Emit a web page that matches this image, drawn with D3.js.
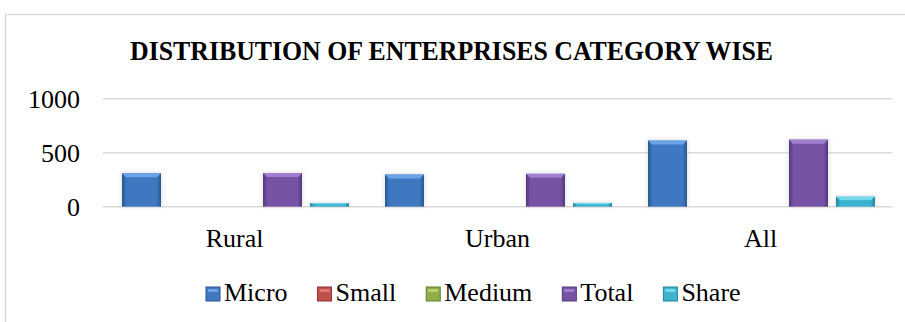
<!DOCTYPE html>
<html>
<head>
<meta charset="utf-8">
<script src="https://cdn.jsdelivr.net/npm/d3@7"></script>
<style>
  body { margin: 0; background: #fff; }
  svg text { font-family: "Liberation Serif", "DejaVu Serif", serif; fill: #000; }
</style>
</head>
<body>
<svg id="chart" width="905" height="322" font-family="Liberation Serif"></svg>
<script>
// data
const categories = ["Rural", "Urban", "All"];
const seriesNames = ["Micro", "Small", "Medium", "Total", "Share"];
const micro  = [309, 298, 612];
const small  = [0, 0, 0];
const medium = [0, 0, 0];
const total  = [312, 304, 621];
const share  = [33, 35, 93];
const yTicks = [0, 500, 1000];

const seriesValues = [micro, small, medium, total, share];
// base / light / dark colours for each series
const palette = {
    Micro:  ["#3f78c0", "#6aa3e6", "#2a5791"],
    Small:  ["#c0504d", "#e07a77", "#8c3431"],
    Medium: ["#8fae4a", "#b5d36f", "#657e2e"],
    Total:  ["#7753a6", "#a07fd0", "#54377a"],
    Share:  ["#3cb4d0", "#74d8ee", "#24839b"]
};
const serif = "Liberation Serif";

const svg = d3.select("#chart");
const defs = svg.append("defs");

// horizontal gradient to get the bevelled look of the bars
seriesNames.forEach(name => {
    let c = palette[name];
    let g = defs.append("linearGradient")
        .attr("id", "grad-" + name)
        .attr("x1", 0).attr("x2", 1).attr("y1", 0).attr("y2", 0);
    g.append("stop").attr("offset", "0%").attr("stop-color", c[2]);
    g.append("stop").attr("offset", "12%").attr("stop-color", c[0]);
    g.append("stop").attr("offset", "88%").attr("stop-color", c[0]);
    g.append("stop").attr("offset", "100%").attr("stop-color", c[2]);
});
defs.append("filter").attr("id", "shadow")
    .attr("x", "-30%").attr("y", "-30%").attr("width", "160%").attr("height", "160%")
    .append("feGaussianBlur").attr("stdDeviation", 2);

// chart frame
svg.append("path")
    .attr("d", "M5.5,322 V14.5 H905")
    .attr("fill", "none")
    .attr("stroke", "#d9d9d9")
    .attr("stroke-width", 1.5);

// title
svg.append("text")
    .attr("x", 130)
    .attr("y", 60)
    .attr("font-family", serif)
    .attr("textLength", 643)
    .attr("lengthAdjust", "spacingAndGlyphs")
    .style("font-size", "28px")
    .style("font-weight", "bold")
    .text("DISTRIBUTION OF ENTERPRISES CATEGORY WISE");

// scales
let x0 = d3.scaleBand().domain(categories).range([103, 892]).padding(0);
let x1 = d3.scaleBand().domain(seriesNames).range([19, 246]).paddingInner(0.17).paddingOuter(0);
let y = d3.scaleLinear().domain([0, 1000]).range([206.7, 98.7]);

// gridlines
svg.append("g").selectAll("line")
    .data(yTicks)
    .join("line")
    .attr("x1", 103).attr("x2", 892)
    .attr("y1", d => y(d)).attr("y2", d => y(d))
    .attr("stroke", "#d9d9d9")
    .attr("stroke-width", 1.5);

// y axis labels
let yAxis = d3.axisLeft(y).tickValues(yTicks).tickSize(0).tickPadding(0).tickFormat(d3.format("d"));
let yg = svg.append("g").attr("transform", "translate(80,0)").call(yAxis)
    .attr("font-family", serif).attr("font-size", 26);
yg.select(".domain").remove();
yg.selectAll("text")
    .attr("dy", "0.34em")
    .attr("fill", "#000");

// x axis labels
let xAxis = d3.axisBottom(x0).tickSize(0).tickPadding(0);
let xg = svg.append("g").attr("transform", "translate(0,247)").call(xAxis)
    .attr("font-family", serif).attr("font-size", 26);
xg.select(".domain").remove();
xg.selectAll("text")
    .attr("dy", 0)
    .attr("y", 0)
    .attr("fill", "#000");

// bars
let rows = categories.map((c, i) => ({
    cat: c,
    vals: seriesNames.map((s, j) => ({ name: s, value: seriesValues[j][i] }))
}));

let groups = svg.append("g").selectAll("g.cat")
    .data(rows)
    .join("g")
    .attr("class", "cat")
    .attr("transform", d => "translate(" + x0(d.cat) + ",0)");

let bars = groups.selectAll("g.bar")
    .data(d => d.vals.filter(v => v.value > 0))
    .join("g")
    .attr("class", "bar");

// soft shadow behind the bars
bars.append("rect")
    .attr("x", d => x1(d.name) - 1)
    .attr("y", d => y(d.value) - 1)
    .attr("width", x1.bandwidth() + 2)
    .attr("height", d => y(0) - y(d.value) + 1)
    .attr("fill", "#c8c8c8")
    .attr("opacity", 0.5)
    .attr("filter", "url(#shadow)");

bars.append("rect")
    .attr("x", d => x1(d.name))
    .attr("y", d => y(d.value))
    .attr("width", x1.bandwidth())
    .attr("height", d => y(0) - y(d.value))
    .attr("fill", d => "url(#grad-" + d.name + ")");

// bevelled top cap
bars.append("path")
    .attr("d", d => {
        let bx = x1(d.name), bw = x1.bandwidth(), by = y(d.value);
        let h = Math.min(4, (y(0) - by) / 3);
        return "M" + bx + "," + by + " H" + (bx + bw) + " L" + (bx + bw - 4) + "," + (by + h) +
            " H" + (bx + 4) + " Z";
    })
    .attr("fill", d => palette[d.name][1]);

// legend
let legend = svg.append("g").attr("transform", "translate(206,0)")
    .attr("font-family", serif);
let lx = 0;
seriesNames.forEach(name => {
    let c = palette[name];
    legend.append("rect")
        .attr("x", lx).attr("y", 287)
        .attr("width", 14).attr("height", 14)
        .attr("fill", c[0])
        .attr("stroke", c[2])
        .attr("stroke-width", 1);
    legend.append("rect")
        .attr("x", lx + 2).attr("y", 289)
        .attr("width", 10).attr("height", 3)
        .attr("fill", c[1]);
    let t = legend.append("text")
        .attr("x", lx + 18)
        .attr("y", 301)
        .attr("font-family", serif)
        .style("font-size", "26px")
        .text(name);
    lx += 18 + t.node().getComputedTextLength() + 30;
});
</script>
</body>
</html>
